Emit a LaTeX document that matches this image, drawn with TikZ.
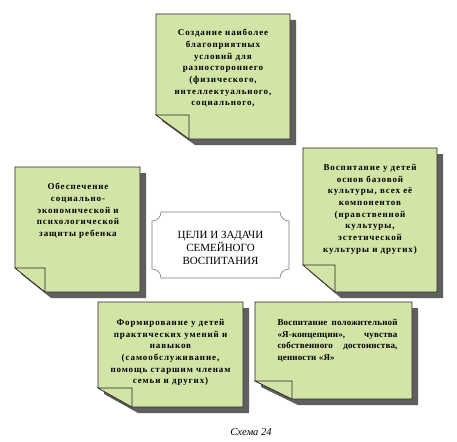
\documentclass[tikz,border=0pt]{standalone}
\usepackage{fontspec}
\setmainfont{Liberation Serif}
\definecolor{notegreen}{RGB}{210,228,166}
\definecolor{shadowgray}{RGB}{95,95,95}
\definecolor{plaquegray}{RGB}{120,120,120}
\tikzset{
  notebody/.style={fill=notegreen, draw=black!85, line width=0.6pt, line join=miter},
  notetext/.style={anchor=north, inner sep=0pt, align=center,
    font=\fontsize{9}{11.7}\selectfont\bfseries\addfontfeature{LetterSpace=10}},
  justtext/.style={anchor=north, inner sep=0pt, align=left,
    font=\fontsize{9}{11.7}\selectfont\bfseries\addfontfeature{LetterSpace=2}},
  plaquetext/.style={anchor=north, inner sep=0pt, align=center,
    font=\fontsize{11}{13}\selectfont},
}
\newcommand\drawnote[6]{%
  \fill[shadowgray] ({#1+6},{#2+6}) -- ({#3+6},{#2+6}) -- ({#3+6},{#4+6}) -- ({#1+#5+6},{#4+6}) -- ({#1+6},{#4-#6+6}) -- cycle;
  \filldraw[notebody] (#1,#2) -- (#3,#2) -- (#3,#4) -- ({#1+#5},#4) -- (#1,{#4-#6}) -- cycle;
  \filldraw[notebody] (#1,{#4-#6}) -- ({#1+#5},{#4-#6}) -- ({#1+#5},#4) -- cycle;
}
\begin{document}
\begin{tikzpicture}[x=1pt,y=-1pt]
\useasboundingbox[fill=white] (0,0) rectangle (457,441);

% note boxes
\drawnote{156}{14}{290}{139}{33}{24}
\drawnote{15}{167}{140}{292}{30}{24}
\drawnote{303}{148}{437}{292}{32}{27}
\drawnote{98}{302}{243}{407}{34}{19}
\drawnote{255}{302}{412}{399}{37}{18}

% central plaque (concave corners)
\draw[plaquegray, line width=0.6pt, fill=white]
  (161,212) -- (280,212) arc[start angle=180, end angle=90, radius=9]
  -- (289,269) arc[start angle=270, end angle=180, radius=9]
  -- (161,278) arc[start angle=0, end angle=-90, radius=9]
  -- (152,221) arc[start angle=90, end angle=0, radius=9] -- cycle;

\node[plaquetext] (goal) at (220.5,231) {ЦЕЛИ И ЗАДАЧИ\\СЕМЕЙНОГО\\ВОСПИТАНИЯ};

\node[notetext] (top) at (223,29) {Создание наиболее\\благоприятных\\условий для\\разностороннего\\(физического,\\интеллектуального,\\социального,};

\node[notetext] (left) at (78,183) {Обеспечение\\социально-\\экономической и\\психологической\\защиты ребенка};

\node[notetext] (right) at (370,164) {Воспитание у детей\\основ базовой\\культуры, всех её\\компонентов\\(нравственной\\культуры,\\эстетической\\культуры и  других)};

\node[notetext] (botleft) at (170.5,319) {Формирование у детей\\практических умений и\\навыков\\(самообслуживание,\\помощь старшим членам\\семьи и других)};

\node[justtext] (botright) at (337.5,319) {\makebox[120pt][s]{Воспитание положительной}\\\makebox[120pt][s]{«Я-концепции», чувства}\\\makebox[120pt][s]{собственного достоинства,}\\\makebox[120pt][l]{ценности «Я»}};

\node[inner sep=0pt, font=\fontsize{10.5}{12}\selectfont\itshape] (caption) at (251,432) {Схема 24};
\end{tikzpicture}
\end{document}
